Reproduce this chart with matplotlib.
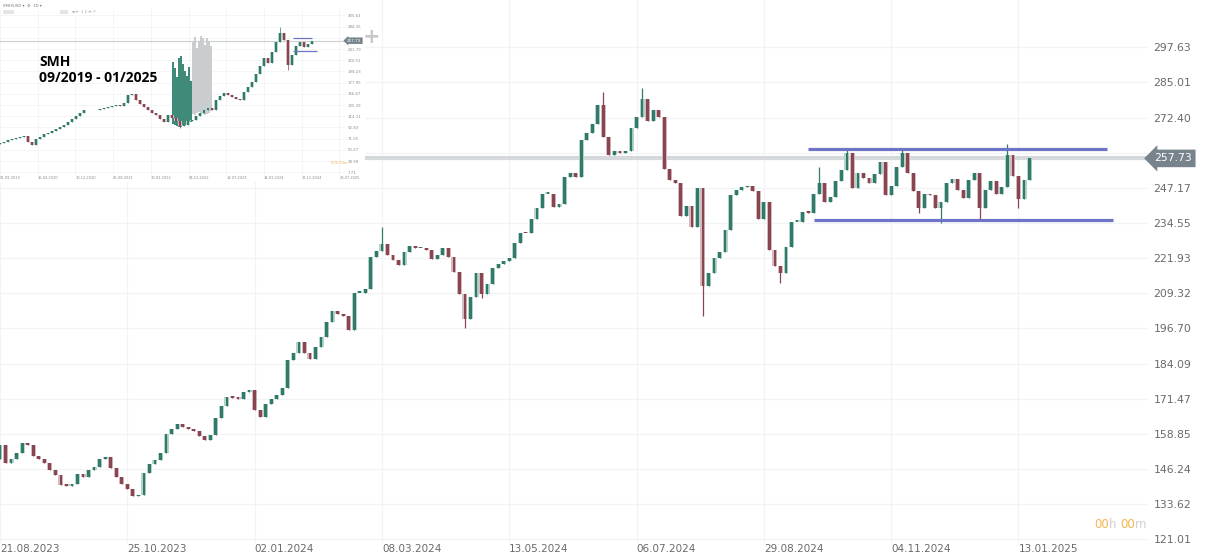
import numpy as np
import matplotlib
matplotlib.use("Agg")
import matplotlib.pyplot as plt
import matplotlib.transforms as mtransforms
from matplotlib.patches import Rectangle

W, H = 1207, 553

# ---- SMH main chart, one candle = 2 trading days ----
closes = [
    155.0, 148.5, 150.0, 152.0, 155.5, 155.0, 151.0, 150.0, 148.5, 146.0, 144.0, 140.5,
    140.3, 141.0, 144.5, 143.5, 146.0, 147.0, 150.0, 150.5, 146.5, 143.5, 141.0,
    139.0, 136.5, 137.0, 145.0, 148.0, 149.5, 152.0, 159.0, 160.5, 162.5, 161.3, 160.7,
    159.8, 158.3, 156.8, 158.5, 164.5, 168.8, 172.0, 171.8, 171.5, 174.0, 174.5,
    167.5, 165.0, 169.5, 171.3, 172.8, 175.5, 185.4, 188.0, 192.0, 188.0, 185.8, 190.0,
    193.6, 199.0, 203.0, 202.0, 201.0, 196.0, 209.5, 209.5, 211.0, 222.5, 224.5,
    227.0, 223.0, 221.3, 219.5, 224.0, 226.2, 225.6, 225.6, 225.0, 221.5, 223.0, 225.5,
    222.5, 217.0, 209.0, 200.0, 208.0, 216.5, 209.0, 212.5, 218.5, 220.0, 220.8,
    222.0, 227.5, 231.0, 230.8, 236.0, 240.0, 245.0, 245.0, 240.2, 241.5, 251.0, 252.5,
    251.0, 264.5, 267.0, 270.0, 276.9, 265.5, 259.0, 260.5, 259.5, 260.5, 268.6,
    272.5, 279.0, 271.0, 275.0, 272.5, 254.0, 250.0, 249.0, 237.0, 240.5, 233.0, 247.0,
    212.0, 216.5, 222.0, 224.0, 232.0, 244.5, 246.4, 247.5, 248.0, 246.0, 236.0,
    242.0, 225.0, 219.0, 216.5, 226.0, 235.0, 235.0, 238.5, 238.2, 245.0, 248.8, 242.0,
    244.0, 249.5, 253.6, 259.5, 247.0, 252.4, 250.6, 248.8, 252.0, 256.5, 244.5,
    248.0, 254.5, 259.5, 252.4, 246.0, 240.0, 245.0, 244.5, 240.0, 242.0, 249.0, 250.5,
    246.5, 243.5, 249.9, 252.6, 240.0, 246.5, 249.5, 245.0, 247.5, 259.0, 251.5,
    243.0, 249.9, 257.73,
]
first_open = 150.0
wick_highs = {69: 233.0, 109: 281.5, 116: 283.0, 148: 254.5, 153: 261.3, 163: 261.3, 182: 263.0}
wick_lows = {84: 197.0, 87: 207.5, 127: 201.0, 141: 213.0, 166: 238.0, 170: 234.5, 177: 235.5, 184: 240.0}

date_labels = ['21.08.2023', '25.10.2023', '02.01.2024', '08.03.2024', '13.05.2024',
               '06.07.2024', '29.08.2024', '04.11.2024', '13.01.2025']
bars_per_label = 23
price_ticks = [121.01, 133.62, 146.24, 158.85, 171.47, 184.09, 196.70, 209.32,
               221.93, 234.55, 247.17, 259.78, 272.40, 285.01, 297.63]
last_price = 257.73
channel_top = (146, 200, 261.1)      # start bar, end bar, price
channel_bottom = (147, 201, 235.6)

# ---- small inset: SMH 09/2019 - 01/2025 ----
inset_closes = [
    63.4, 65.3, 69.1, 71.0, 72.9, 74.8, 76.7, 65.3, 59.6, 71.0,
    74.8, 80.5, 82.4, 86.2, 90.0, 93.8, 97.6, 103.3, 109.0, 114.7,
    120.4, 126.1, 126.1, 126.1, 126.1, 128.0, 129.9, 131.8, 133.7, 135.6,
    133.7, 139.4, 154.6, 156.5, 145.1, 137.5, 131.8, 126.1, 120.4, 116.6,
    109.0, 103.3, 116.6, 110.9, 105.2, 95.7, 97.6, 105.2, 107.1, 114.7,
    120.4, 126.1, 129.9, 126.1, 145.1, 152.8, 158.4, 154.6, 150.8, 147.0,
    145.1, 160.3, 169.8, 179.3, 194.5, 209.7, 224.9, 215.4, 236.3, 255.3,
    272.4, 259.1, 211.6, 230.5, 247.7, 255.3, 245.8, 251.5, 257.7,
]
inset_first_open = 62.0
inset_wick_highs = {70: 284.0}
inset_wick_lows = {72: 202.0, 45: 92.0}
inset_price_ticks = [305.63, 284.35, 263.07, 241.79, 220.51, 199.23, 177.95, 156.67,
                     135.39, 114.11, 92.83, 71.55, 50.27, 28.99, 7.71]
inset_date_labels = ['01.09.2019', '16.04.2020', '10.12.2020', '05.08.2021', '30.03.2022',
                     '04.12.2022', '18.07.2023', '14.03.2024', '11.11.2024', '28.07.2025']
green_glitch_top = [217, 205, 189, 224, 228, 214, 200, 190, 207, 182]
green_glitch_bottom = [100, 97, 95, 94, 93, 95, 97, 99, 101, 104]
gray_glitch_top = [255, 264, 243, 258, 266, 262, 250, 262, 258, 248]
gray_glitch_bottom = [118, 116, 120, 123, 121, 118, 116, 119, 121, 124]
inset_channel_top = (73.2, 78.0, 262.9)
inset_channel_bottom = (73.2, 79.3, 238.2)

GREEN = '#2e7b6a'
RED = '#8a4550'
HALO_G = '#b9d2cb'
HALO_R = '#d2bcc0'


def draw_candles(ax, closes, first_open, highs_extra, lows_extra, body_w, halo_w, wick_lw):
    opens = [first_open] + list(closes[:-1])
    for i, (o, c) in enumerate(zip(opens, closes)):
        up = c >= o
        col = GREEN if up else RED
        halo = HALO_G if up else HALO_R
        lo, hi = min(o, c), max(o, c)
        h = max(hi - lo, 0.5)
        top = highs_extra.get(i, hi)
        bot = lows_extra.get(i, lo)
        ax.vlines(i, bot, top, color=col, lw=wick_lw, zorder=3)
        ax.bar(i, h, bottom=lo, width=halo_w, color=halo, zorder=2, linewidth=0)
        ax.bar(i, h, bottom=lo, width=body_w, color=col, zorder=4, linewidth=0)


fig = plt.figure(figsize=(W / 100, H / 100), dpi=100)
fig.patch.set_facecolor('white')

# ---------------- main chart ----------------
ax = fig.add_axes([0, 1 - 543 / H, 1148 / W, 543 / H])
ax.set_facecolor('white')
draw_candles(ax, closes, first_open, wick_highs, wick_lows, 0.5, 0.9, 0.9)

ax.set_xlim(0.18, 207.4)
ax.set_ylim(119.73, 314.56)
for s in ax.spines.values():
    s.set_visible(False)

ax.yaxis.tick_right()
ax.set_yticks(price_ticks)
# the tick next to the last price is hidden under the price tag
ax.set_yticklabels(['' if abs(p - last_price) < 4 else '%.2f' % p for p in price_ticks])
ax.tick_params(axis='y', length=0, pad=4, labelsize=7.8, labelcolor='#6a6a6a')
xt = np.arange(len(date_labels)) * bars_per_label
ax.set_xticks(xt)
ax.set_xticklabels(date_labels)
for lbl in ax.get_xticklabels():
    lbl.set_horizontalalignment('left')
ax.tick_params(axis='x', length=0, pad=0.5, labelsize=7.5, labelcolor='#6a6a6a')
ax.grid(True, color='#f1f3f5', lw=0.9)
ax.set_axisbelow(True)

# current price line and label
ax.axhline(last_price, color='#d6d9db', lw=3, zorder=1)
blend = mtransforms.blended_transform_factory(ax.transAxes, ax.transData)
ax.text(1154 / 1148, last_price, '%.2f' % last_price, transform=blend, ha='left', va='center',
        color='white', fontsize=7.8, clip_on=False, zorder=10,
        bbox=dict(boxstyle='larrow,pad=0.35', fc='#78848b', ec='none'))

# channel lines
for x0, x1, p in (channel_top, channel_bottom):
    ax.hlines(p, x0, x1, color='#6d73c6', lw=2.3, zorder=6)

# countdown text
t = fig.text(1094 / W, 1 - 531 / H, '00', color='#f6b54d', fontsize=8.5, va='bottom')
t = ax.annotate('h ', xy=(1, 0), xycoords=t, va='bottom', color='#cfcfcf', fontsize=8.5)
t = ax.annotate('00', xy=(1, 0), xycoords=t, va='bottom', color='#f6b54d', fontsize=8.5)
ax.annotate('m', xy=(1, 0), xycoords=t, va='bottom', color='#cfcfcf', fontsize=8.5)

# crosshair icon next to the inset
fig.text(372 / W, 1 - 37 / H, '+', color='#c8c8c8', fontsize=15, fontweight='bold',
         ha='center', va='center', zorder=5)

# ---------------- inset ----------------
cover = fig.add_axes([0, 1 - 182 / H, 365 / W, 182 / H], zorder=2)
cover.set_facecolor('white')
cover.set_xticks([])
cover.set_yticks([])
for s in cover.spines.values():
    s.set_visible(False)

ins = fig.add_axes([0, 1 - 176 / H, 345 / W, 168 / H], zorder=3)
ins.set_facecolor('none')
ins.set_xlim(0, 86.25)
ins.set_ylim(0.66, 319.86)
for s in ins.spines.values():
    s.set_visible(False)

gx = 43.25 + 0.5 * np.arange(len(green_glitch_top))
ins.bar(gx, np.array(green_glitch_top) - np.array(green_glitch_bottom),
        bottom=green_glitch_bottom, width=0.35, color='#3f8a78', linewidth=0, zorder=2)
yx = 48.25 + 0.5 * np.arange(len(gray_glitch_top))
ins.bar(yx, np.array(gray_glitch_top) - np.array(gray_glitch_bottom),
        bottom=gray_glitch_bottom, width=0.35, color='#c9cdcf', linewidth=0, zorder=2)

draw_candles(ins, inset_closes, inset_first_open, inset_wick_highs, inset_wick_lows, 0.55, 0.8, 0.5)

ins.yaxis.tick_right()
ins.set_yticks(inset_price_ticks)
ins.set_yticklabels(['' if abs(p - last_price) < 8 else '%.2f' % p for p in inset_price_ticks])
ins.tick_params(axis='y', length=0, pad=2, labelsize=2.8, labelcolor='#8a8a8a')
ins.set_xticks([])
ins.grid(True, axis='y', color='#f3f4f6', lw=0.6)
ins.set_axisbelow(True)
for k, lab in enumerate(inset_date_labels):
    ins.text(k * 9.43, -0.012, lab, transform=ins.get_xaxis_transform(), fontsize=2.6,
             color='#8a8a8a', ha='left', va='center', clip_on=False)
    ins.axvline(k * 9.43, color='#f3f4f6', lw=0.6, zorder=0)

ins.axhline(last_price, color='#cfd2d5', lw=0.9, zorder=1)
iblend = mtransforms.blended_transform_factory(ins.transAxes, ins.transData)
ins.text(1.0 + 2 / 345, last_price, '%.2f' % last_price, transform=iblend, ha='left', va='center',
         color='white', fontsize=3, clip_on=False, zorder=10,
         bbox=dict(boxstyle='larrow,pad=0.3', fc='#78848b', ec='none'))
for x0, x1, p in (inset_channel_top, inset_channel_bottom):
    ins.hlines(p, x0, x1, color='#6d73c6', lw=0.9, zorder=6)

# toolbar of the small screenshot
ins.text(3 / W, 1 - 6 / H, 'SMH/USD \u25be  \u2699  1D \u25be', transform=fig.transFigure,
         fontsize=2.8, color='#777777', va='center', ha='left', zorder=10)
for bx, bw in ((3, 11), (60, 8)):
    ins.add_patch(Rectangle((bx / W, 1 - 14 / H), bw / W, 4 / H, transform=fig.transFigure,
                            fc='#e3e5e7', ec='none', zorder=9, clip_on=False))
ins.text(72 / W, 1 - 12 / H, '\u2261 \u25be   \u2021 \u2195 \u2194 \u2197', transform=fig.transFigure,
         fontsize=2.6, color='#999999', va='center', ha='left', zorder=10)
ins.text(331 / W, 1 - 163 / H, '00h 00m', transform=fig.transFigure, fontsize=2.6,
         color='#f6b54d', va='center', ha='left', zorder=10)

# title inside the inset
ins.text(39 / W, 1 - 66 / H, 'SMH', transform=fig.transFigure, fontsize=10, fontweight='bold',
         family=['Open Sans', 'DejaVu Sans'], color='black', va='baseline', ha='left', zorder=12)
ins.text(39 / W, 1 - 82 / H, '09/2019 - 01/2025', transform=fig.transFigure, fontsize=10,
         fontweight='bold', family=['Open Sans', 'DejaVu Sans'], color='black',
         va='baseline', ha='left', zorder=12)

fig.savefig('out.png', dpi=100, facecolor='white')
